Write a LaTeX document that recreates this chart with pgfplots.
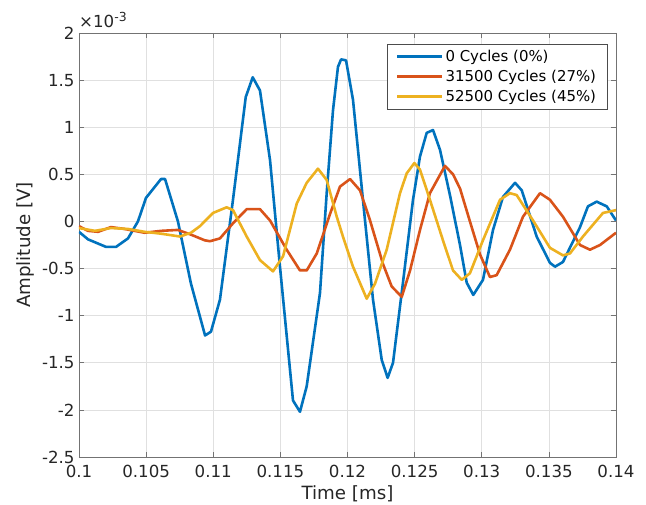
\documentclass[border=0pt]{standalone}
\usepackage{pgfplots}
\pgfplotsset{compat=1.18}
\usepackage{pgfplotstable}
\usepackage{fontspec}
\setmainfont{DejaVu Sans}
\definecolor{mblue}{rgb}{0,0.447,0.741}
\definecolor{morange}{rgb}{0.850,0.325,0.098}
\definecolor{myellow}{rgb}{0.929,0.694,0.125}

\pgfplotstableread{
t v
0.10000 -0.11
0.10067 -0.19
0.10201 -0.27
0.10276 -0.27
0.10365 -0.18
0.10439 0.00
0.10499 0.25
0.10611 0.45
0.10641 0.45
0.10737 0.00
0.10834 -0.66
0.10939 -1.21
0.10983 -1.17
0.11050 -0.83
0.11147 0.23
0.11242 1.32
0.11294 1.53
0.11348 1.39
0.11423 0.65
0.11497 -0.48
0.11594 -1.90
0.11646 -2.02
0.11696 -1.75
0.11795 -0.76
0.11845 0.30
0.11892 1.18
0.11929 1.64
0.11952 1.72
0.11989 1.71
0.12041 1.29
0.12115 0.23
0.12190 -0.83
0.12255 -1.47
0.12299 -1.66
0.12339 -1.50
0.12413 -0.65
0.12488 0.23
0.12540 0.69
0.12590 0.94
0.12637 0.97
0.12689 0.76
0.12763 0.28
0.12838 -0.25
0.12888 -0.65
0.12937 -0.78
0.13009 -0.62
0.13084 -0.09
0.13158 0.26
0.13248 0.41
0.13298 0.33
0.13409 -0.16
0.13508 -0.44
0.13546 -0.48
0.13605 -0.43
0.13732 -0.06
0.13791 0.16
0.13856 0.21
0.13931 0.16
0.14000 0.01
}\blue

\pgfplotstableread{
t v
0.10000 -0.05
0.10067 -0.10
0.10142 -0.11
0.10238 -0.06
0.10340 -0.08
0.10489 -0.12
0.10611 -0.10
0.10737 -0.09
0.10834 -0.14
0.10936 -0.20
0.10976 -0.21
0.11050 -0.18
0.11147 -0.02
0.11249 0.13
0.11348 0.13
0.11423 0.01
0.11547 -0.30
0.11646 -0.52
0.11696 -0.52
0.11771 -0.34
0.11870 0.08
0.11944 0.37
0.12019 0.45
0.12093 0.33
0.12168 0.01
0.12264 -0.45
0.12329 -0.69
0.12404 -0.80
0.12466 -0.52
0.12540 -0.09
0.12614 0.30
0.12726 0.59
0.12786 0.50
0.12838 0.35
0.12912 0.00
0.12987 -0.35
0.13061 -0.59
0.13111 -0.57
0.13210 -0.30
0.13307 0.05
0.13434 0.30
0.13508 0.23
0.13605 0.05
0.13732 -0.25
0.13806 -0.30
0.13881 -0.25
0.14000 -0.12
}\orange

\pgfplotstableread{
t v
0.10000 -0.07
0.10119 -0.10
0.10238 -0.07
0.10365 -0.08
0.10489 -0.11
0.10611 -0.13
0.10752 -0.16
0.10834 -0.12
0.10901 -0.05
0.10998 0.09
0.11100 0.15
0.11147 0.12
0.11249 -0.16
0.11348 -0.41
0.11445 -0.53
0.11520 -0.37
0.11622 0.19
0.11696 0.41
0.11780 0.56
0.11845 0.44
0.11920 0.05
0.11966 -0.16
0.12041 -0.48
0.12143 -0.82
0.12205 -0.66
0.12292 -0.30
0.12391 0.30
0.12441 0.51
0.12498 0.62
0.12540 0.55
0.12614 0.23
0.12711 -0.20
0.12786 -0.52
0.12851 -0.62
0.12912 -0.55
0.13009 -0.20
0.13136 0.23
0.13210 0.30
0.13260 0.28
0.13382 0.01
0.13508 -0.28
0.13605 -0.36
0.13657 -0.34
0.13754 -0.16
0.13903 0.09
0.14000 0.12
}\yellow

\begin{document}
\begin{tikzpicture}
\path[use as bounding box] (-79bp,-48bp) rectangle (567bp,457bp);
\begin{axis}[
  at={(0,0)}, anchor=south west,
  width=537bp, height=424bp, scale only axis,
  clip mode=individual,
  xmin=0.1, xmax=0.14, ymin=-2.5, ymax=2,
  xtick={0.1,0.105,0.11,0.115,0.12,0.125,0.13,0.135,0.14},
  ytick={-2.5,-2,-1.5,-1,-0.5,0,0.5,1,1.5,2},
  scaled x ticks=false, scaled y ticks=false,
  xticklabel style={/pgf/number format/fixed, /pgf/number format/precision=3, yshift=-5bp},
  yticklabel style={/pgf/number format/fixed, /pgf/number format/precision=1, xshift=-1bp},
  /pgf/number format/assume math mode=true,
  tick align=inside, major tick length=5bp,
  tick style={color=black!55, line width=0.6bp},
  axis line style={color=black!55, line width=0.8bp},
  grid=major, grid style={color=black!12, line width=0.6bp},
  ticklabel style={font=\fontsize{16.7}{19}\selectfont, text=black!85},
  label style={font=\fontsize{18.3}{21}\selectfont, text=black!85},
  xlabel={Time [ms]},
  ylabel={Amplitude [V]},
  xlabel style={at={(axis description cs:0.5,-0.086)}, anchor=center},
  ylabel style={at={(axis description cs:-0.1,0.5)}, anchor=center},
  legend cell align=left,
  legend style={at={(axis description cs:0.984,0.974)}, anchor=north east,
    draw=black!70, line width=0.6bp, fill=white,
    font=\fontsize{15}{15}\selectfont, inner xsep=9bp, inner ysep=4bp, row sep=3bp},
  legend image code/.code={\draw[#1] (0bp,0bp) -- (45bp,0bp);},
  every axis plot/.append style={line width=2.6bp, line join=round},
]
\addplot[mblue] table[x=t,y=v] {\blue};
\addlegendentry{0 Cycles (0\%)}
\addplot[morange] table[x=t,y=v] {\orange};
\addlegendentry{31500 Cycles (27\%)}
\addplot[myellow] table[x=t,y=v] {\yellow};
\addlegendentry{52500 Cycles (45\%)}
\node[anchor=base west, inner sep=0pt, font=\fontsize{16.7}{19}\selectfont, text=black!85] at ([yshift=5bp]axis description cs:0,1) {×10\raisebox{0.42em}{\fontsize{12.5}{13}\selectfont -3}};
\end{axis}
\end{tikzpicture}
\end{document}
